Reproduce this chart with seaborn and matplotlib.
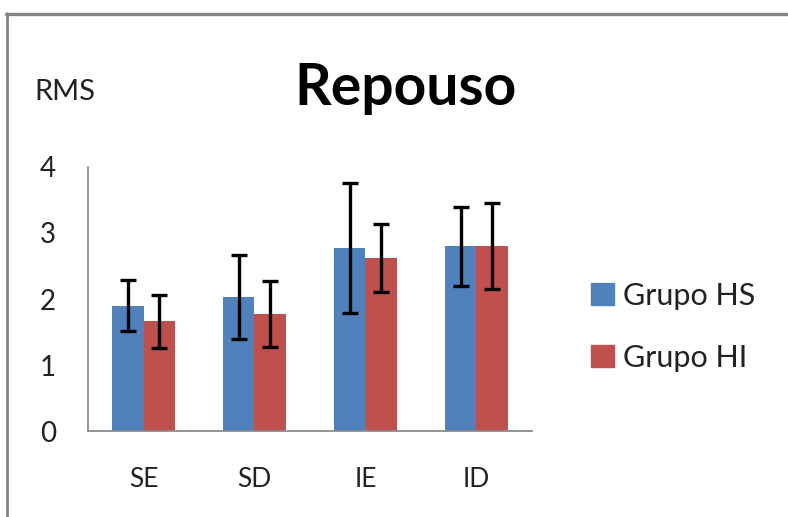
""" Repouso - RMS por grupo """

import numpy as np
import pandas as pd
import matplotlib
matplotlib.use("Agg")
import matplotlib.pyplot as plt
from matplotlib.lines import Line2D
import seaborn as sns

# Data
categories = ["SE", "SD", "IE", "ID"]
groups = ["Grupo HS", "Grupo HI"]
hs_mean = [1.90, 2.03, 2.77, 2.80]
hi_mean = [1.66, 1.77, 2.62, 2.80]
hs_err = [0.39, 0.63, 0.98, 0.60]
hi_err = [0.40, 0.50, 0.52, 0.65]

df = pd.DataFrame({
    "Musculo": categories * 2,
    "Grupo": [groups[0]] * 4 + [groups[1]] * 4,
    "RMS": hs_mean + hi_mean,
    "Erro": hs_err + hi_err,
})

sns.set_style("white")
plt.rcParams["font.family"] = ["Lato", "DejaVu Sans"]

fig = plt.figure(figsize=(7.88, 5.17), dpi=100)
ax = fig.add_axes([0.1117, 0.1663, 0.5633, 0.5107])

palette = {"Grupo HS": "#4F81BD", "Grupo HI": "#C0504D"}
sns.barplot(data=df, x="Musculo", y="RMS", hue="Grupo", order=categories,
            hue_order=groups, palette=palette, width=0.57, errorbar=None,
            saturation=1, ax=ax, legend=False, linewidth=0)

# Error bars on the bar centres given by seaborn
for patch_set, errs in zip([ax.patches[:4], ax.patches[4:8]], [hs_err, hi_err]):
    xs = [p.get_x() + p.get_width() / 2 for p in patch_set]
    ys = [p.get_height() for p in patch_set]
    ax.errorbar(xs, ys, yerr=errs, fmt="none", ecolor="black",
                elinewidth=2.4, capsize=5.5, capthick=2.4, zorder=5)

ax.set_ylim(0, 4)
ax.set_xlim(-0.5, 3.5)
ax.set_yticks([0, 1, 2, 3, 4])
ax.set_xlabel("")
ax.set_ylabel("")
ax.tick_params(axis="y", length=0, pad=23, labelsize=20, colors="#222222")
ax.tick_params(axis="x", length=0, pad=26, labelsize=19, colors="#222222")

sns.despine(ax=ax)
for s in ["left", "bottom"]:
    ax.spines[s].set_color("#8c8c8c")
    ax.spines[s].set_linewidth(1.3)

# Titles
fig.text(0.514, 0.828, "Repouso", fontsize=41, fontweight="bold",
         ha="center", va="center", color="black")
fig.text(0.044, 0.822, "RMS", fontsize=21, ha="left", va="center",
         color="#222222")

# Legend
handles = [plt.Rectangle((0, 0), 1, 1, color=palette[g]) for g in groups]
fig.legend(handles, groups, loc="center left", bbox_to_anchor=(0.715, 0.368),
           frameon=False, fontsize=22, handlelength=0.75, handleheight=0.75,
           handletextpad=0.3, labelspacing=1.1, labelcolor="#222222")

# Outer frame (top and left edges)
fig.add_artist(Line2D([0.008, 1], [0.972, 0.972], color="#858585",
                      lw=2.4, transform=fig.transFigure))
fig.add_artist(Line2D([0.009, 0.009], [0, 0.974], color="#858585",
                      lw=2.0, transform=fig.transFigure))

fig.savefig("out.png", dpi=100)
